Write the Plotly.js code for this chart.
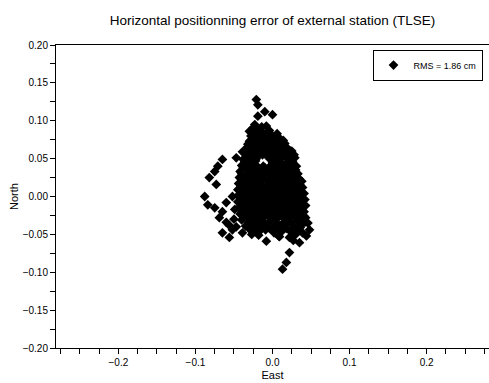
<!DOCTYPE html>
<html>
<head>
<meta charset="utf-8">
<script src="https://cdn.plot.ly/plotly-3.0.1.min.js"></script>
<style>html,body{margin:0;padding:0;background:#fff;}#chart{width:489px;height:383px;}</style>
</head>
<body>
<div id="chart"></div>
<script>
// East / North positioning errors (m)
const east = [
  // outlying points (top tail, left arc, bottom tail)
  -0.021,-0.019,-0.010,0.000,-0.019,-0.023,-0.014,-0.030,-0.004,-0.027,-0.032,-0.039,-0.047,-0.065,-0.071,-0.075,-0.082,-0.073,-0.088,-0.084,-0.075,-0.065,-0.069,-0.060,-0.065,-0.056,-0.049,-0.052,-0.060,-0.047,-0.039,-0.027,-0.008,0.009,0.022,0.035,0.044,0.048,0.046,0.041,0.031,0.029,0.022,0.018,0.013,
  // core rows
  -0.025,-0.017,-0.008,
  -0.028,-0.020,-0.011,-0.002,0.006,
  -0.030,-0.021,-0.012,-0.003,0.006,0.014,
  -0.033,-0.024,-0.015,-0.006,0.003,0.012,0.019,
  -0.035,-0.026,-0.017,-0.008,0.001,0.010,0.018,0.025,
  -0.038,-0.029,-0.021,-0.005,0.004,0.013,0.021,
  -0.040,-0.031,-0.022,-0.004,0.006,0.015,0.024,
  -0.042,-0.033,-0.024,-0.015,-0.006,0.003,0.012,0.021,0.030,
  -0.043,-0.034,-0.025,-0.016,-0.007,0.002,0.011,0.020,0.029,0.035,
  -0.044,-0.035,-0.026,-0.017,-0.008,0.001,0.010,0.019,0.028,0.036,
  -0.045,-0.036,-0.027,-0.018,-0.009,0.000,0.009,0.018,0.027,0.036,
  -0.045,-0.036,-0.027,-0.018,-0.009,0.000,0.009,0.018,0.027,0.036,0.041,
  -0.045,-0.036,-0.027,-0.018,-0.009,0.000,0.009,0.018,0.027,0.036,0.042,
  -0.044,-0.035,-0.026,-0.017,-0.008,0.001,0.010,0.019,0.028,0.037,0.043,
  -0.042,-0.033,-0.024,-0.015,-0.006,0.003,0.012,0.021,0.030,0.039,
  -0.040,-0.031,-0.022,-0.013,-0.004,0.005,0.014,0.023,0.032,0.040,
  -0.035,-0.026,-0.017,-0.008,0.001,0.010,0.019,0.028,0.037,
  -0.027,-0.018,-0.009,0.002,0.013,0.024,0.033,0.039,
  // staggered core rows
  -0.021,-0.013,-0.004,
  -0.025,-0.016,-0.007,0.002,0.010,
  -0.028,-0.019,-0.010,-0.001,0.008,0.016,
  -0.030,-0.021,-0.012,-0.003,0.007,0.015,0.022,
  -0.033,-0.024,-0.013,-0.004,0.005,0.014,0.022,0.028,
  -0.036,-0.027,-0.022,0.000,0.009,0.018,0.026,
  -0.038,-0.028,-0.019,-0.010,0.001,0.010,0.019,0.027,
  -0.040,-0.030,-0.021,-0.012,-0.003,0.007,0.016,0.025,0.033,
  -0.040,-0.031,-0.022,-0.013,-0.004,0.006,0.015,0.024,0.032,0.038,
  -0.041,-0.032,-0.023,-0.014,-0.004,0.005,0.014,0.023,0.032,0.039,
  -0.041,-0.032,-0.023,-0.014,-0.005,0.005,0.014,0.023,0.032,0.039,
  -0.041,-0.032,-0.023,-0.014,-0.005,0.005,0.014,0.023,0.032,0.040,
  -0.041,-0.032,-0.023,-0.014,-0.005,0.005,0.014,0.023,0.032,0.040,
  -0.040,-0.031,-0.022,-0.013,-0.004,0.006,0.015,0.024,0.033,0.041,
  -0.038,-0.029,-0.020,-0.011,-0.002,0.008,0.017,0.026,0.035,0.043,
  -0.031,-0.022,-0.013,-0.004,0.006,0.015,0.024,0.033,0.042,
  -0.031,-0.022,-0.013,-0.004,0.007,0.018,0.028,0.036,
  -0.018,0.008,0.030,-0.052,-0.050,-0.056,0.027,-0.012
];
const north = [
  0.128,0.121,0.112,0.108,0.106,0.095,0.092,0.086,0.084,0.075,0.069,0.059,0.051,0.049,0.040,0.033,0.025,0.016,0.000,-0.011,-0.015,-0.020,-0.028,-0.034,-0.048,-0.054,-0.017,0.000,-0.008,-0.040,-0.048,-0.050,-0.059,-0.053,-0.054,-0.061,-0.052,-0.044,-0.035,-0.026,0.040,0.051,-0.074,-0.087,-0.096,
  0.091,0.088,0.093,
  0.080,0.083,0.081,0.079,0.083,
  0.073,0.076,0.072,0.075,0.071,0.074,
  0.065,0.068,0.064,0.067,0.063,0.066,0.064,
  0.057,0.060,0.056,0.059,0.055,0.058,0.056,0.060,
  0.049,0.052,0.050,0.051,0.048,0.052,0.049,
  0.041,0.044,0.040,0.039,0.043,0.040,0.043,
  0.033,0.036,0.032,0.035,0.031,0.034,0.036,0.032,0.035,
  0.025,0.028,0.024,0.027,0.023,0.026,0.028,0.024,0.027,0.023,
  0.017,0.020,0.016,0.019,0.015,0.018,0.020,0.016,0.019,0.015,
  0.009,0.012,0.008,0.011,0.007,0.010,0.012,0.008,0.011,0.007,
  0.001,0.004,0.000,0.003,-0.001,0.002,0.004,0.000,0.003,-0.001,0.004,
  -0.007,-0.004,-0.008,-0.005,-0.009,-0.006,-0.004,-0.008,-0.005,-0.009,-0.004,
  -0.015,-0.012,-0.016,-0.013,-0.017,-0.014,-0.012,-0.016,-0.013,-0.017,-0.012,
  -0.023,-0.020,-0.024,-0.021,-0.025,-0.022,-0.020,-0.024,-0.021,-0.025,
  -0.031,-0.028,-0.032,-0.029,-0.033,-0.030,-0.028,-0.032,-0.029,-0.031,
  -0.039,-0.036,-0.040,-0.037,-0.041,-0.038,-0.036,-0.040,-0.037,
  -0.045,-0.047,-0.044,-0.048,-0.045,-0.047,-0.044,-0.048,
  // staggered core rows
  0.086,0.085,0.087,
  0.078,0.077,0.079,0.078,0.076,
  0.070,0.069,0.071,0.070,0.068,0.070,
  0.062,0.061,0.063,0.062,0.060,0.062,0.061,
  0.054,0.053,0.055,0.054,0.052,0.054,0.053,0.055,
  0.046,0.045,0.047,0.045,0.046,0.044,0.046,
  0.038,0.037,0.039,0.038,0.036,0.038,0.037,0.039,
  0.030,0.029,0.031,0.030,0.028,0.030,0.029,0.031,0.030,
  0.022,0.021,0.023,0.022,0.020,0.022,0.021,0.023,0.022,0.020,
  0.014,0.013,0.015,0.014,0.012,0.014,0.013,0.015,0.014,0.012,
  0.006,0.005,0.007,0.006,0.004,0.006,0.005,0.007,0.006,0.004,
  -0.002,-0.003,-0.001,-0.002,-0.004,-0.002,-0.003,-0.001,-0.002,-0.004,
  -0.010,-0.011,-0.009,-0.010,-0.012,-0.010,-0.011,-0.009,-0.010,-0.012,
  -0.018,-0.019,-0.017,-0.018,-0.020,-0.018,-0.019,-0.017,-0.018,-0.020,
  -0.026,-0.027,-0.025,-0.026,-0.028,-0.026,-0.027,-0.025,-0.026,-0.028,
  -0.034,-0.035,-0.033,-0.034,-0.036,-0.034,-0.035,-0.033,-0.034,
  -0.042,-0.043,-0.041,-0.042,-0.044,-0.042,-0.043,-0.041,
  -0.051,-0.052,-0.050,-0.044,-0.030,-0.038,-0.058,0.040
];
const legendLabel = "RMS = 1.86 cm";
const chartTitle = "Horizontal positionning error of external station (TLSE)";
const xTickVals = [-0.2, -0.1, 0.0, 0.1, 0.2];
const yTickVals = [-0.20, -0.15, -0.10, -0.05, 0.00, 0.05, 0.10, 0.15, 0.20];

const font = "Liberation Sans, Arial, Helvetica, sans-serif";

const trace = {
  type: "scatter", mode: "markers", x: east, y: north, name: legendLabel,
  marker: {symbol: "diamond", size: 7.5, color: "#000"},
  showlegend: true
};

const layout = {
  width: 489, height: 383,
  margin: {l: 56, r: 0, t: 45, b: 35},
  paper_bgcolor: "#fff", plot_bgcolor: "#fff",
  font: {family: font, color: "#000", size: 10},
  title: {text: chartTitle, font: {family: font, size: 13.5, color: "#000"},
          x: 0.5, xanchor: "center", xref: "paper", y: 1 - 20/383, yanchor: "middle"},
  showlegend: true,
  legend: {x: 0.985, xanchor: "right", y: 0.985, yanchor: "top",
           bordercolor: "#000", borderwidth: 1, bgcolor: "#fff",
           font: {family: font, size: 9, color: "#000"}, itemwidth: 30},
  xaxis: {
    range: [-0.281, 0.281], showgrid: false, zeroline: false,
    showline: true, linecolor: "#000", linewidth: 1, mirror: true,
    ticks: "outside", ticklen: 5, tickcolor: "#000", tickwidth: 1,
    tickvals: xTickVals, tickformat: ".1f",
    minor: {dtick: 0.025, tick0: 0, ticks: "outside", ticklen: 5, tickcolor: "#000", showgrid: false},
    tickfont: {family: font, size: 10, color: "#000"},
    title: {text: "East", font: {family: font, size: 11, color: "#000"}, standoff: 4}
  },
  yaxis: {
    range: [-0.2, 0.2], showgrid: false, zeroline: false,
    showline: true, linecolor: "#000", linewidth: 1, mirror: false,
    ticks: "outside", ticklen: 5, tickcolor: "#000", tickwidth: 1,
    tickvals: yTickVals, tickformat: ".2f",
    minor: {dtick: 0.025, tick0: 0, ticks: "outside", ticklen: 5, tickcolor: "#000", showgrid: false},
    tickfont: {family: font, size: 10, color: "#000"},
    title: {text: "North", font: {family: font, size: 11, color: "#000"}, standoff: 1}
  }
};

Plotly.newPlot("chart", [trace], layout, {staticPlot: true, displayModeBar: false});
</script>
</body>
</html>
